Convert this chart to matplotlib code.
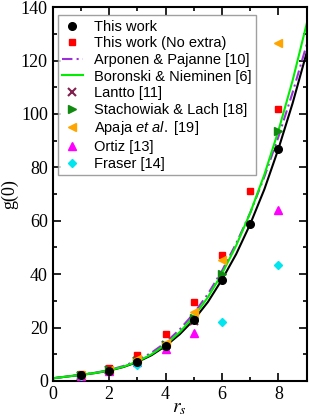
import matplotlib
matplotlib.use("Agg")
import matplotlib.pyplot as plt
from matplotlib.ticker import MultipleLocator

# curves (rs grid, step 0.5)
rs_curve = [0, 0.5, 1, 1.5, 2, 2.5, 3, 3.5, 4, 4.5, 5, 5.5, 6, 6.5, 7, 7.5, 8, 8.5, 9]
g_this = [1, 1.67, 2.28, 2.97, 3.9, 5.22, 7.1, 9.65, 13.1, 17.5, 22.9, 29.6,
          38.0, 47.5, 58.8, 71.8, 87.0, 104.0, 123.0]
g_arponen = [1, 1.7, 2.35, 3.1, 4.1, 5.6, 7.7, 10.6, 14.4, 19.3, 25.3, 32.6,
             41.3, 51.5, 63.0, 76.5, 91.5, 108.0, 126.0]
g_boronski = [1, 1.67, 2.30, 3.00, 3.96, 5.33, 7.28, 9.98, 13.6, 18.3, 24.1, 31.4,
              40.2, 50.7, 63.0, 77.3, 93.8, 112.5, 133.8]

# points
rs_this = [1, 2, 3, 4, 5, 6, 7, 8]
pts_this = [2.28, 3.9, 7.1, 13.1, 22.9, 38.0, 58.8, 87.0]
rs_noextra = [1, 2, 3, 4, 5, 6, 7, 8]
pts_noextra = [2.6, 5.0, 9.7, 17.6, 29.7, 47.2, 71.2, 102.0]
rs_lantto = [1, 2, 3, 4, 5]
pts_lantto = [2.0, 4.0, 7.4, 13.4, 22.6]
rs_stach = [1, 2, 3, 4, 5, 6, 8]
pts_stach = [2.2, 4.0, 7.4, 13.4, 23.5, 40.0, 93.7]
rs_apaja = [1, 2, 3, 4, 5, 6, 8]
pts_apaja = [2.1, 4.3, 8.1, 14.3, 26.0, 45.3, 126.5]
rs_ortiz = [1, 2, 3, 4, 5, 8]
pts_ortiz = [1.9, 3.7, 7.2, 11.9, 17.9, 64.0]
rs_fraser = [1, 3, 6, 8]
pts_fraser = [1.9, 5.9, 22.2, 43.4]

plt.rcParams["font.family"] = ["Liberation Sans", "DejaVu Sans"]
plt.rcParams["mathtext.fontset"] = "custom"
plt.rcParams["mathtext.it"] = "Liberation Sans:italic"
plt.rcParams["mathtext.rm"] = "Liberation Sans"

fig = plt.figure(figsize=(3.09, 4.19), dpi=100)
ax = fig.add_axes([0.1706, 0.0907, 0.822, 0.8923])

ax.plot(rs_curve, g_this, color="black", lw=1.5, zorder=2)
ax.plot(rs_curve, g_arponen, color="#9b30d9", lw=1.5, ls=(0, (5, 2, 1, 2)), zorder=2)
ax.plot(rs_curve, g_boronski, color="#00ee00", lw=1.5, zorder=2)

ax.plot(rs_this, pts_this, "o", color="black", ms=5.5, zorder=4, label="This work")
ax.plot(rs_noextra, pts_noextra, "s", color="red", ms=5, zorder=3, label="This work (No extra)")
ax.plot([], [], color="#9b30d9", lw=1.5, ls=(0, (5, 2, 1, 2)), label="Arponen & Pajanne [10]")
ax.plot([], [], color="#00ee00", lw=1.5, label="Boronski & Nieminen [6]")
ax.plot(rs_lantto, pts_lantto, "x", color="#80204f", ms=5.5, mew=1.5, zorder=3, label="Lantto [11]")
ax.plot(rs_stach, pts_stach, ">", color="#108a10", ms=6, zorder=3, label="Stachowiak & Lach [18]")
ax.plot(rs_apaja, pts_apaja, "<", color="#ffa500", ms=6, zorder=3, label=r"Apaja $\it{et\ al.}$ [19]")
ax.plot(rs_ortiz, pts_ortiz, "^", color="#ff00ff", ms=6, zorder=3, label="Ortiz [13]")
ax.plot(rs_fraser, pts_fraser, "D", color="#00e5ee", ms=4.5, zorder=3, label="Fraser [14]")

ax.set_xlim(0, 9)
ax.set_ylim(0, 140)
ax.xaxis.set_major_locator(MultipleLocator(2))
ax.xaxis.set_minor_locator(MultipleLocator(1))
ax.yaxis.set_major_locator(MultipleLocator(20))
ax.yaxis.set_minor_locator(MultipleLocator(10))
ax.tick_params(which="both", direction="in", top=True, right=True, width=1.2)
ax.tick_params(which="major", length=6, labelsize=13)
ax.tick_params(which="minor", length=3)
for lab in ax.get_xticklabels() + ax.get_yticklabels():
    lab.set_family("Liberation Serif")
for sp in ax.spines.values():
    sp.set_linewidth(1.5)

ax.set_ylabel("g(0)", family="Liberation Serif", fontsize=13, labelpad=2)
ax.set_xlabel("$r_s$", fontsize=14, math_fontfamily="stix", labelpad=-2)

leg = ax.legend(loc="upper left", bbox_to_anchor=(0.02, 0.978), fontsize=10.5,
                frameon=True, fancybox=False, edgecolor="#888888",
                handlelength=1.4, handletextpad=0.8, labelspacing=0.18,
                borderpad=0.3, borderaxespad=0.0, numpoints=1)
leg.get_frame().set_linewidth(1.0)

fig.savefig("out.png", dpi=100)
